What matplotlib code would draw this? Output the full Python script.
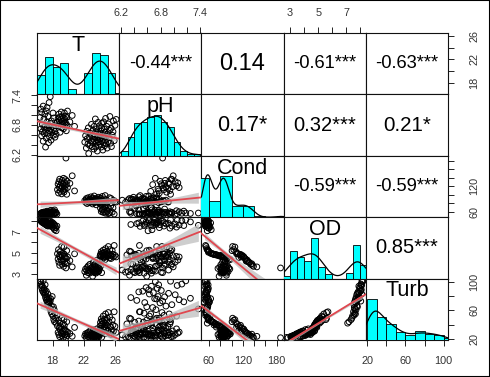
import numpy as np
import matplotlib
matplotlib.use("Agg")
import matplotlib.pyplot as plt
from matplotlib.patches import Rectangle

plt.rcParams["font.family"] = ["Liberation Sans", "DejaVu Sans"]

names = ["T", "pH", "Cond", "OD", "Turb"]

# samples in four blocks: cold/turbid, cold/high conductivity, warm low OD, warm
T = [16.4, 16.5, 16.5, 16.6, 16.6, 16.7, 16.7, 16.8, 16.8, 16.9, 16.9, 16.95,
     17.02, 17.05, 17.1, 17.1, 17.2, 17.2, 17.3, 17.3, 17.35, 17.4, 17.4, 17.5, 17.5,
     17.55, 17.6, 17.6, 17.7, 17.7, 17.75, 17.8, 17.85, 17.9, 17.95,
     18.05, 18.1, 18.15, 18.2, 18.25, 18.3, 18.4, 18.45, 18.55,
     18.62, 18.7, 18.75, 18.8, 18.85, 18.9, 18.95, 18.98, 19.05, 19.1, 19.15, 19.2, 19.25,
     19.3, 19.35, 19.4, 19.45, 19.5, 19.5, 19.55, 19.6, 19.65, 19.7, 19.75, 19.8, 19.85,
     19.9, 20.2, 20.5, 20.8,
     22.1, 22.2, 22.3, 22.35, 22.4, 22.5, 22.55, 22.6, 22.7, 22.75, 22.8, 22.9, 22.95,
     23.05, 23.1, 23.1, 23.15, 23.2, 23.25, 23.3, 23.3, 23.35, 23.4, 23.45, 23.5, 23.5,
     23.55, 23.6, 23.65, 23.7, 23.7, 23.75, 23.8, 23.85, 23.9, 23.9, 23.95, 23.98, 24.1, 24.25,
     24.05, 24.1, 24.15, 24.2, 24.25, 24.3, 24.35, 24.4, 24.45, 24.5, 24.5, 24.55, 24.6,
     24.65, 24.7, 24.7, 24.75, 24.8, 24.85, 24.9, 24.95, 24.98,
     25.05, 25.1, 25.2, 25.25, 25.3, 25.4, 25.45, 25.5, 25.6, 25.7, 25.75, 25.85, 25.95, 26.1]

pH = [6.95, 7.12, 6.72, 6.58, 7.05, 6.81, 6.66, 7.18, 6.47, 6.75, 6.92, 6.62, 7.02, 6.77, 6.35,
      6.69, 7.08, 6.53, 6.86, 7.15, 6.74, 6.63, 6.97, 6.44, 6.79, 7.25, 6.68, 6.56, 6.83, 7.37,
      6.71, 6.49, 6.88, 6.65, 6.76, 7.04, 6.59, 6.94, 6.73, 6.67, 6.55, 6.78, 6.61, 6.85,
      6.85, 6.93, 6.78, 7.02, 6.88, 6.96, 6.65, 6.82, 6.91, 7.06, 6.74, 6.87, 6.98, 6.81, 6.94,
      6.72, 6.89, 7.04, 6.84, 6.92, 6.76, 6.97, 6.83, 6.68, 6.95, 6.79, 7.08, 6.86, 6.99, 6.77,
      6.45, 6.58, 6.33, 6.67, 6.52, 6.41, 6.74, 6.22, 6.55, 6.38, 6.63, 6.47, 6.81, 6.36, 6.59,
      6.44, 6.69, 6.51, 6.31, 6.77, 6.62, 6.48, 6.56, 6.92, 6.35, 6.66, 6.43, 6.72, 6.54, 6.27,
      6.64, 6.49, 6.85, 6.39, 6.57, 6.46, 6.78, 6.61, 6.53, 6.83,
      6.52, 6.41, 6.68, 6.35, 6.74, 6.47, 6.58, 6.29, 6.63, 6.44, 6.86, 6.55, 6.71, 6.38, 6.49,
      6.65, 6.93, 6.42, 6.57, 6.77, 6.33, 6.61, 6.46, 6.82, 6.54, 6.69, 6.97, 6.43, 6.73, 6.36,
      6.59, 6.66, 6.88, 6.48, 6.79, 6.91]

Cond = [54, 56, 53, 57, 55, 58, 52.5, 56.5, 54.5, 59, 55.5, 57.5, 53.5, 58.5, 56, 54, 59.5, 55,
        57, 61, 53, 56, 58, 54.5, 59.8, 55.5, 57.5, 52, 59, 56.5, 63, 54, 58, 55, 57, 62, 53.5,
        59.5, 56, 64, 55, 58.5, 57, 54,
        112, 125, 104, 131, 118, 137, 108, 122, 115, 128, 102, 134, 119, 126, 110, 139, 106, 121,
        116, 129, 113, 136, 187, 124, 101, 132, 117, 127, 145, 109,
        86, 82, 91, 88, 79, 84, 93, 87, 81, 89, 85, 95, 83, 90, 78, 86, 92, 84, 88, 81,
        97, 85, 89, 83, 87, 91, 76, 84, 86, 82, 90, 88, 85, 94, 83, 87, 89, 81, 92, 86,
        78, 68, 86, 60, 76, 64, 96, 72, 58, 83, 66, 90, 59, 80, 98, 70, 56, 88, 74, 63,
        59.5, 82, 85, 55, 67, 93, 57, 73, 91, 81, 58.5, 69, 87, 54, 84, 82.5]

OD = [8.15, 8.05, 8.18, 7.95, 8.1, 8.02, 7.9, 8.12, 7.85, 8.0, 7.8, 8.08,
      7.75, 8.06, 7.7, 7.92, 7.65, 8.03, 7.88, 7.6, 7.82, 8.11, 7.55, 7.78, 7.68, 7.95, 7.58,
      7.72, 8.04, 7.62, 7.85, 7.52, 7.76, 7.66, 7.9,
      7.45, 7.8, 7.35, 7.7, 7.2, 7.6, 7.4, 7.1, 7.55,
      4.9, 4.4, 5.3, 4.1, 4.7, 3.8, 5.1, 4.6, 4.8, 4.3, 5.6, 3.9, 4.75, 4.2, 4.95, 3.7, 5.55,
      4.65, 4.85, 4.15, 4.55, 3.95, 3.55, 4.45, 5.2, 4.05, 4.6, 4.25, 3.65, 4.9,
      3.2, 3.45, 2.85, 3.3, 3.6, 3.1, 3.75, 3.35, 3.05, 3.9, 3.25, 3.55, 3.15, 3.4, 2.75, 3.65,
      3.3, 4.1, 3.2, 3.85, 3.45, 3.1, 3.7, 3.35, 3.95, 3.05, 3.5, 3.25, 4.3, 3.15, 3.6, 3.4,
      3.8, 3.2, 3.55, 3.3, 4.2, 3.45, 3.7, 3.1,
      4.7, 4.85, 4.6, 5.1, 4.75, 4.95, 4.4, 4.8, 5.25, 4.65, 4.9, 4.55, 5.05, 4.7, 4.35, 4.85,
      5.4, 4.6, 4.8, 4.95, 5.15, 4.75, 4.65, 5.6, 4.9, 4.5, 5.3, 4.8, 4.45, 4.7, 5.2, 4.85,
      4.6, 5.7, 4.75, 4.6]

Turb = [101, 97, 100.5, 92, 95, 88, 94, 101.5, 86, 91, 84, 89,
        82, 96, 78, 85, 75, 87, 79, 72, 76, 83, 68, 74, 70.5, 77, 64, 71, 73, 62, 76.5, 58,
        66, 55, 79.5,
        52, 65, 47, 61, 44, 56, 49, 42, 53,
        38, 29, 46, 26, 35, 23, 42, 33, 37, 28, 49, 24, 31, 27, 41, 22, 47, 34, 39, 25.5, 32,
        26.5, 21.5, 30.5, 44, 24.5, 29.5, 27.5, 23.5, 36,
        24, 27, 21.5, 25, 28, 23, 29, 25.5, 22.5, 31, 24.5, 27.5, 23.5, 26, 22, 28.5, 24, 33,
        23, 30.5, 26.5, 22, 29.5, 25, 28, 23.5, 26, 24, 34, 22.5, 27, 25.5, 29, 24.5, 26.5, 23,
        32, 25, 27.5, 22,
        38, 43, 35, 48, 40, 45, 29, 41, 52, 36, 44, 33, 47, 37, 27, 42, 55, 34, 39, 46, 49,
        38.5, 32, 57, 43.5, 28, 50.5, 36.5, 26, 31, 46.5, 39.5, 30.5, 58, 37.5, 29]

# correlation labels of the upper panels (row, col)
cor_labels = {(0, 1): "-0.44***", (0, 2): "0.14", (0, 3): "-0.61***", (0, 4): "-0.63***",
              (1, 2): "0.17*", (1, 3): "0.32***", (1, 4): "0.21*",
              (2, 3): "-0.59***", (2, 4): "-0.59***", (3, 4): "0.85***"}
cor_sizes = {(0, 1): 13.2, (0, 2): 17, (0, 3): 13.2, (0, 4): 13.2,
             (1, 2): 15.5, (1, 3): 14.5, (1, 4): 14.8,
             (2, 3): 13.2, (2, 4): 13.2, (3, 4): 14.5}

# axis ticks: all tick marks and the labelled ones
ticks_all = {"T": [18, 20, 22, 24, 26],
             "pH": [6.2, 6.4, 6.6, 6.8, 7.0, 7.2, 7.4],
             "Cond": [60, 80, 100, 120, 140, 160, 180],
             "OD": [3, 4, 5, 6, 7, 8],
             "Turb": [20, 40, 60, 80, 100]}
ticks_lab = {"T": [18, 22, 26], "pH": [6.2, 6.8, 7.4], "Cond": [60, 120, 180],
             "OD": [3, 5, 7], "Turb": [20, 60, 100]}
ticks_lab_right = {"T": [18, 22, 26], "Cond": [60, 120], "Turb": [20, 60, 100]}

# histogram breaks
breaks = {"T": np.arange(16, 28, 1.0),
          "pH": np.round(np.arange(6.2, 7.45, 0.1), 1),
          "Cond": np.arange(40, 220, 20.0),
          "OD": np.arange(2.5, 9.0, 0.5),
          "Turb": np.arange(20, 120, 10.0)}

data = {"T": np.array(T), "pH": np.array(pH), "Cond": np.array(Cond),
        "OD": np.array(OD), "Turb": np.array(Turb)}

lims = {}
for k, v in data.items():
    r = v.max() - v.min()
    lims[k] = (v.min() - 0.04 * r, v.max() + 0.04 * r)


def hist_counts(x, br):
    # right-closed bins like R's hist()
    idx = np.searchsorted(br, x, side="left") - 1
    idx = np.clip(idx, 0, len(br) - 2)
    return np.bincount(idx, minlength=len(br) - 1)


def kde(x, grid):
    n = len(x)
    sd = np.std(x, ddof=1)
    q75, q25 = np.percentile(x, [75, 25])
    bw = 0.9 * min(sd, (q75 - q25) / 1.34) * n ** -0.2
    z = (grid[:, None] - x[None, :]) / bw
    return np.exp(-0.5 * z ** 2).sum(axis=1) / (n * bw * np.sqrt(2 * np.pi))


fig = plt.figure(figsize=(4.9, 3.77), dpi=100)
W, H = 490, 377
gx0, gx1, gy0, gy1 = 37, 448, 33, 340
cw = (gx1 - gx0) / 5
ch = (gy1 - gy0) / 5

red = "#e0474f"

for i in range(5):
    for j in range(5):
        ax = fig.add_axes([(gx0 + j * cw) / W, 1 - (gy0 + (i + 1) * ch) / H, cw / W, ch / H])
        vx, vy = names[j], names[i]
        ax.set_xlim(lims[vx])
        ax.set_ylim(lims[vy])
        for s in ax.spines.values():
            s.set_linewidth(0.8)
            s.set_color("#111111")

        if i > j:
            x, y = data[vx], data[vy]
            ax.scatter(x, y, s=17, facecolors="none", edgecolors="black", linewidths=0.7, zorder=2)
            b, a = np.polyfit(x, y, 1)
            n = len(x)
            resid = y - (a + b * x)
            s_err = np.sqrt((resid ** 2).sum() / (n - 2))
            sxx = ((x - x.mean()) ** 2).sum()
            xs = np.linspace(x.min(), x.max(), 100)
            se = s_err * np.sqrt(1 / n + (xs - x.mean()) ** 2 / sxx)
            ax.fill_between(xs, a + b * xs - 1.98 * se, a + b * xs + 1.98 * se,
                            color="#bebebe", alpha=0.75, lw=0, zorder=3)
            xl = np.array(lims[vx])
            ax.plot(xl, a + b * xl, color=red, lw=1.3, zorder=4)
        elif i == j:
            x = data[vx]
            br = breaks[vx]
            cnt = hist_counts(x, br)
            hx = ax.inset_axes([0, 0, 1, 1])
            hx.set_xlim(lims[vx])
            hx.set_ylim(0, 1.5)
            hx.axis("off")
            hx.bar(br[:-1], cnt / cnt.max(), width=np.diff(br), align="edge",
                   color="#00ffff", edgecolor="black", linewidth=0.6)
            grid = np.linspace(lims[vx][0], lims[vx][1], 300)
            dens = kde(x, grid) * len(x) * (br[1] - br[0]) / cnt.max()
            hx.plot(grid, dens, color="black", lw=0.9)
            hx.text(0.5, 0.97, vx, transform=hx.transAxes, ha="center", va="top",
                    fontsize=15.5)
        else:
            ax.text(0.5, 0.5, cor_labels[(i, j)], transform=ax.transAxes,
                    ha="center", va="center", fontsize=cor_sizes[(i, j)])

        ax.tick_params(which="both", length=4.3, width=0.7, color="#222222",
                       labelsize=7.8, labelcolor="#333333",
                       top=False, bottom=False, left=False, right=False,
                       labeltop=False, labelbottom=False, labelleft=False, labelright=False)
        ax.set_xticks(ticks_lab[vx], [f"{v:g}" for v in ticks_lab[vx]])
        ax.set_xticks(ticks_all[vx], minor=True)
        if j == 4 and vy in ticks_lab_right:
            ylab = ticks_lab_right[vy]
        else:
            ylab = ticks_lab[vy]
        ax.set_yticks(ylab, [f"{v:g}" for v in ylab])
        ax.set_yticks(ticks_all[vy], minor=True)

        if i == 0 and j in (1, 3):
            ax.tick_params(axis="x", which="both", top=True, labeltop=True, pad=6.5)
        if i == 4 and j in (0, 2, 4):
            ax.tick_params(axis="x", which="both", bottom=True, labelbottom=True, pad=7.5)
        if j == 0 and i in (1, 3):
            ax.tick_params(axis="y", which="both", left=True, labelleft=True, pad=5.8,
                           labelrotation=90)
            plt.setp(ax.get_yticklabels(), va="center")
        if j == 4 and i in (0, 2, 4):
            ax.tick_params(axis="y", which="both", right=True, labelright=True, pad=11,
                           labelrotation=90)
            plt.setp(ax.get_yticklabels(), va="center")

fig.patches.append(Rectangle((0, 0), 1, 1, transform=fig.transFigure, fill=False,
                             edgecolor="black", linewidth=1.5))

fig.savefig("out.png", dpi=100)
